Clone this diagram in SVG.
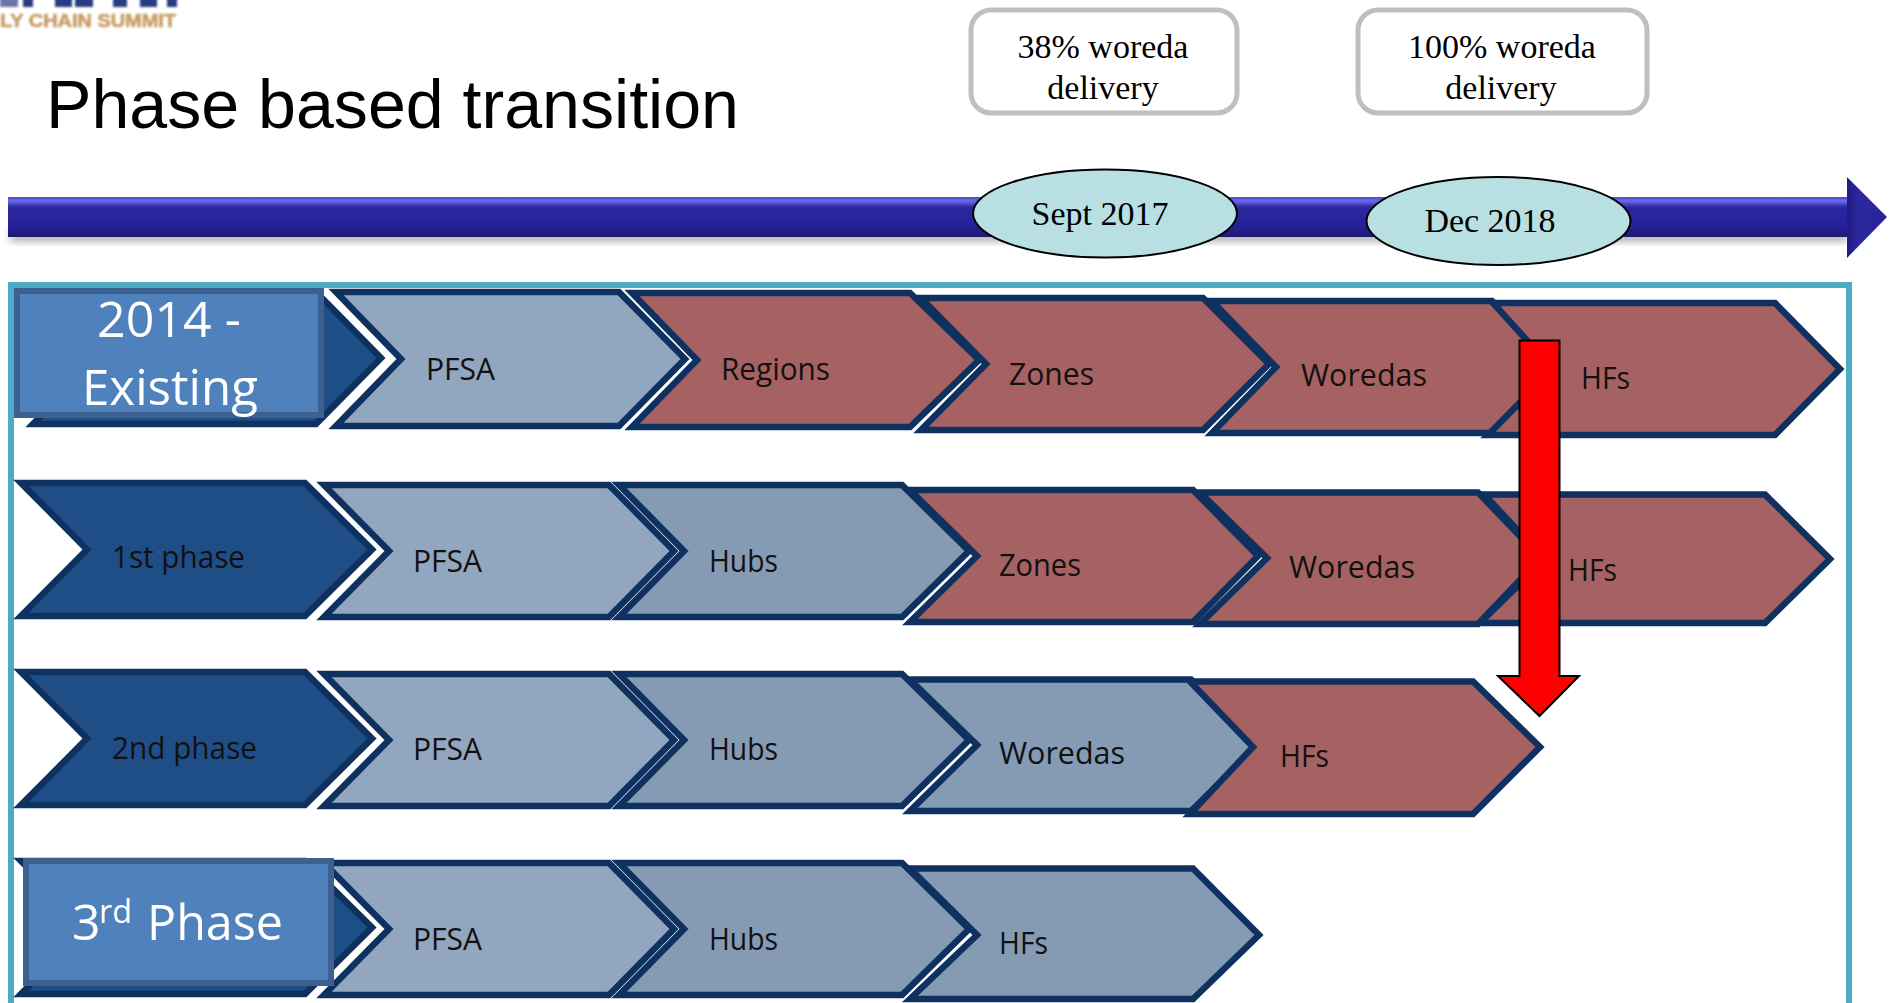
<svg xmlns="http://www.w3.org/2000/svg" width="1895" height="1003" viewBox="0 0 1895 1003">
<defs>
<linearGradient id="bar" gradientUnits="userSpaceOnUse" x1="0" y1="197" x2="0" y2="237">
<stop offset="0" stop-color="#4a48c8"/><stop offset="0.1" stop-color="#6b6bee"/><stop offset="0.25" stop-color="#2c289f"/><stop offset="0.75" stop-color="#25209a"/><stop offset="1" stop-color="#1d1a6c"/>
</linearGradient>
<linearGradient id="head" gradientUnits="userSpaceOnUse" x1="1847" y1="0" x2="1887" y2="0">
<stop offset="0" stop-color="#1f1c86"/><stop offset="0.3" stop-color="#2c289f"/><stop offset="1" stop-color="#26229a"/>
</linearGradient>
<filter id="soft" x="-2%" y="-30%" width="104%" height="180%"><feGaussianBlur stdDeviation="4"/></filter>
<filter id="blur1" x="-5%" y="-30%" width="110%" height="160%"><feGaussianBlur stdDeviation="0.9"/></filter>
</defs>
<style>
.c{stroke:#0e3160;stroke-width:6.500;stroke-linejoin:miter;stroke-miterlimit:10}
.d{fill:#1f4e87}.p{fill:#93a6bf}.h{fill:#859ab3}.r{fill:#a66262}
.t{font-family:"Open Sans","Noto Sans",sans-serif;font-size:31px;fill:#111}
.w{font-family:"Open Sans","Noto Sans",sans-serif;font-size:50px;fill:#fff}
.s{font-family:"Liberation Serif","Times New Roman",serif;font-size:34px;fill:#000;text-anchor:middle}
.b{fill:#4f81bd;stroke:#3c6191;stroke-width:6}
</style>
<g id="logo">
<g fill="#2b3a85" filter="url(#blur1)"><rect x="0" y="-2" width="18" height="9" opacity="0.7"/><rect x="23" y="-2" width="10" height="9"/><rect x="55" y="-2" width="17" height="9"/><rect x="75" y="-2" width="18" height="9"/><rect x="113" y="-2" width="14" height="9"/><rect x="140" y="-2" width="17" height="9"/><rect x="167" y="-2" width="10" height="9"/></g>
<text x="0" y="27" font-family="Liberation Sans, sans-serif" font-weight="700" font-size="19" fill="#c9a068" stroke="#c9a068" stroke-width="0.700" textLength="176" lengthAdjust="spacingAndGlyphs" filter="url(#blur1)">LY CHAIN SUMMIT</text>
</g>
<text id="title" x="46" y="128" font-family="Liberation Sans, Arial, sans-serif" font-size="68" fill="#000" textLength="693" lengthAdjust="spacingAndGlyphs">Phase based transition</text>
<g id="note-38"><rect x="971" y="10" width="266" height="103" rx="20" fill="#fff" stroke="#bfbfbf" stroke-width="5"/><text class="s" x="1103" y="58">38% woreda</text><text class="s" x="1103" y="99">delivery</text></g>
<g id="note-100"><rect x="1358" y="10" width="289" height="103" rx="20" fill="#fff" stroke="#bfbfbf" stroke-width="5"/><text class="s" x="1502" y="58">100% woreda</text><text class="s" x="1501" y="99">delivery</text></g>
<g id="timeline">
<rect x="10" y="232" width="1838" height="9" fill="#000" opacity="0.35" filter="url(#soft)"/>
<polygon points="8,197 1847,197 1847,237 8,237" fill="url(#bar)"/>
<polygon points="1847,177 1887,217 1847,258" fill="url(#head)"/>
</g>
<g id="sept-2017"><ellipse cx="1105" cy="213.500" rx="132" ry="44" fill="#b8dfe2" stroke="#000" stroke-width="2"/><text class="s" x="1100" y="225">Sept 2017</text></g>
<g id="dec-2018"><ellipse cx="1498.500" cy="221" rx="132" ry="44" fill="#b8dfe2" stroke="#000" stroke-width="2"/><text class="s" x="1490" y="232">Dec 2018</text></g>
<rect id="frame" x="11" y="285" width="1838" height="730" fill="none" stroke="#4bacc6" stroke-width="6"/>
<g id="row-existing">
<g id="e0"><polygon class="c d" points="33,292 316,292 381,358 316,424 33,424 98,358"/><rect class="b" x="17" y="291" width="304" height="124"/><text class="w" x="97" y="337" textLength="144" lengthAdjust="spacingAndGlyphs">2014 -</text><text class="w" x="82" y="405" textLength="176" lengthAdjust="spacingAndGlyphs">Existing</text></g>
<g id="e1"><polygon class="c p" points="336,292 619,292 685,359 619,426 336,426 401,359"/><text class="t" x="426" y="380" textLength="69" lengthAdjust="spacingAndGlyphs">PFSA</text></g>
<g id="e2"><polygon class="c r" points="632,293 910,293 979,360 910,427 632,427 697,360"/><text class="t" x="721" y="380" textLength="109" lengthAdjust="spacingAndGlyphs">Regions</text></g>
<g id="e3"><polygon class="c r" points="921,298 1203,298 1269,364 1203,430 921,430 986,364"/><text class="t" x="1009" y="385" textLength="85" lengthAdjust="spacingAndGlyphs">Zones</text></g>
<g id="e4"><polygon class="c r" points="1212,301 1492,301 1555,367 1492,433 1212,433 1276,367"/><text class="t" x="1301" y="386" textLength="126" lengthAdjust="spacingAndGlyphs">Woredas</text></g>
<g id="e5"><polygon class="c r" points="1493,303 1775,303 1840,369 1775,435 1488,435 1553,369"/><text class="t" x="1581" y="389" textLength="49" lengthAdjust="spacingAndGlyphs">HFs</text></g>
</g>
<g id="row-1st">
<g id="a0"><polygon class="c d" points="21,483 305,483 372,549.500 305,616 21,616 87,549.500"/><text class="t" x="112" y="568" textLength="133" lengthAdjust="spacingAndGlyphs">1st phase</text></g>
<g id="a1"><polygon class="c p" points="324,485 609,485 674,551 609,617 324,617 389,551"/><text class="t" x="413" y="572" textLength="69" lengthAdjust="spacingAndGlyphs">PFSA</text></g>
<g id="a2"><polygon class="c h" points="619,485 902,485 969,551 902,617 619,617 684,551"/><text class="t" x="709" y="572" textLength="69" lengthAdjust="spacingAndGlyphs">Hubs</text></g>
<g id="a3"><polygon class="c r" points="910,490 1193,490 1258,556 1193,622 910,622 977,556"/><text class="t" x="999" y="576" textLength="82" lengthAdjust="spacingAndGlyphs">Zones</text></g>
<g id="a4"><polygon class="c r" points="1200,492.500 1478,492.500 1541,558 1478,624 1200,624 1267,558"/><text class="t" x="1289" y="578" textLength="126" lengthAdjust="spacingAndGlyphs">Woredas</text></g>
<g id="a5"><polygon class="c r" points="1484,494.500 1765,494.500 1830,559 1765,623 1480,623 1545,559"/><text class="t" x="1568" y="580.500" textLength="49" lengthAdjust="spacingAndGlyphs">HFs</text></g>
</g>
<g id="row-2nd">
<g id="b0"><polygon class="c d" points="21,672 305,672 372,738.500 305,805 21,805 87,738.500"/><text class="t" x="112" y="758.500" textLength="145" lengthAdjust="spacingAndGlyphs">2nd phase</text></g>
<g id="b1"><polygon class="c p" points="324,674 609,674 674,740 609,806 324,806 389,740"/><text class="t" x="413" y="760" textLength="69" lengthAdjust="spacingAndGlyphs">PFSA</text></g>
<g id="b2"><polygon class="c h" points="619,674 902,674 969,740 902,806 619,806 684,740"/><text class="t" x="709" y="760" textLength="69" lengthAdjust="spacingAndGlyphs">Hubs</text></g>
<g id="b3"><polygon class="c h" points="910,679.500 1191,679.500 1258,745 1191,811 910,811 977,745"/><text class="t" x="999" y="764" textLength="126" lengthAdjust="spacingAndGlyphs">Woredas</text></g>
<g id="b4"><polygon class="c r" points="1190,681.500 1473,681.500 1540,747 1473,814 1190,814 1253,747"/><text class="t" x="1280" y="767" textLength="49" lengthAdjust="spacingAndGlyphs">HFs</text></g>
</g>
<g id="row-3rd">
<g id="c0"><polygon class="c d" points="21,861 305,861 372,927.500 305,994 21,994 87,927.500"/></g>
<g id="c1"><polygon points="315,860 333,860 398,929 333,998 315,998 380,929" fill="#fff"/><polygon class="c p" points="324,863 609,863 674,929 609,995 324,995 389,929"/><text class="t" x="413" y="950" textLength="69" lengthAdjust="spacingAndGlyphs">PFSA</text></g>
<g id="c2"><polygon class="c h" points="619,863 902,863 969,929 902,995 619,995 684,929"/><text class="t" x="709" y="950" textLength="69" lengthAdjust="spacingAndGlyphs">Hubs</text></g>
<g id="c3"><polygon class="c h" points="910,868.500 1193,868.500 1259,935 1193,999 910,999 977,935"/><text class="t" x="999" y="954" textLength="49" lengthAdjust="spacingAndGlyphs">HFs</text></g>
<g id="c-label"><rect class="b" x="26" y="861" width="305" height="122"/><text class="w" x="72" y="940">3</text><text class="w" x="99" y="923" style="font-size:33px" textLength="33" lengthAdjust="spacingAndGlyphs">rd</text><text class="w" x="147" y="940" textLength="136" lengthAdjust="spacingAndGlyphs">Phase</text></g>
</g>
<g id="connectors"><polygon points="1519.500,340.500 1559.500,340.500 1559.500,676 1579,676 1539.500,716 1498,676 1519.500,676" fill="#ff0000" stroke="#000" stroke-width="2"/></g>
</svg>
